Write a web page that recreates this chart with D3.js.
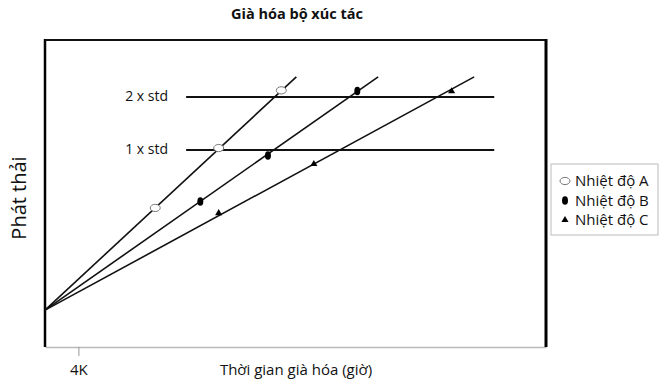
<!DOCTYPE html>
<html>
<head>
<meta charset="utf-8">
<script src="https://cdn.jsdelivr.net/npm/d3@7"></script>
<style>
  body { margin: 0; background: #fff; }
  text { font-family: "Open Sans", "Noto Sans", sans-serif; fill: #111; }
</style>
</head>
<body>
<div id="chart"></div>
<script>
// time in thousand hours, emission in arbitrary units
var xTicks = [4];
var xTickLabels = ['4K'];
var stdLevels = [6.42, 8.14];
var stdLabels = ['1 x std', '2 x std'];
var stdRange = [16.9, 53.8];

var seriesNames = ['Nhiệt độ A', 'Nhiệt độ B', 'Nhiệt độ C'];
var lineA = [[0, 1.2], [30.1, 8.8]];
var lineB = [[0, 1.2], [39.9, 8.8]];
var lineC = [[0, 1.2], [51.4, 8.8]];
var pointsA = [[13.2, 4.53], [20.8, 6.48], [28.3, 8.36]];
var pointsB = [[18.6, 4.74], [26.7, 6.24], [37.4, 8.34]];
var pointsC = [[20.8, 4.36], [32.2, 5.96], [48.7, 8.33]];

var width = 666, height = 384;
var margin = {left: 45, top: 40, right: 120, bottom: 37};

var svg = d3.select('#chart').append('svg')
  .attr('width', width)
  .attr('height', height);

var x = d3.scaleLinear().domain([0, 60]).range([margin.left, width - margin.right]);
var y = d3.scaleLinear().domain([0, 10]).range([height - margin.bottom, margin.top]);

// title
svg.append('text')
  .attr('x', 297).attr('y', 19)
  .attr('text-anchor', 'middle')
  .style('font-size', '14.5px').style('font-weight', 'bold')
  .text('Già hóa bộ xúc tác');

// bottom axis (light grey)
var xAxis = svg.append('g')
  .attr('transform', 'translate(0,' + y(0) + ')')
  .call(d3.axisBottom(x).tickValues(xTicks)
    .tickFormat(function(d, i) { return xTickLabels[i]; })
    .tickSize(9).tickSizeOuter(0));
xAxis.select('.domain').attr('stroke', '#b8b8b8').attr('stroke-width', 1.5);
xAxis.selectAll('.tick line').attr('stroke', '#999');
xAxis.selectAll('.tick text')
  .attr('y', 17)
  .style('font-size', '15px')
  .style('font-family', '"Open Sans", sans-serif')
  .attr('fill', '#111');

// frame: left, top, right
var x0 = x(0), x1 = x(60), yT = y(10), yB = y(0);
svg.append('line').attr('x1', x0).attr('x2', x0).attr('y1', yT - 1).attr('y2', yB)
  .attr('stroke', '#000').attr('stroke-width', 2.5);
svg.append('line').attr('x1', x0).attr('x2', x1).attr('y1', yT).attr('y2', yT)
  .attr('stroke', '#111').attr('stroke-width', 2);
svg.append('line').attr('x1', x1).attr('x2', x1).attr('y1', yT - 1).attr('y2', yB)
  .attr('stroke', '#000').attr('stroke-width', 3);

// axis titles
svg.append('text')
  .attr('x', 296).attr('y', 375)
  .attr('text-anchor', 'middle')
  .style('font-size', '15px')
  .text('Thời gian già hóa (giờ)');

svg.append('text')
  .attr('transform', 'translate(26,198) rotate(-90)')
  .attr('text-anchor', 'middle')
  .style('font-size', '20px')
  .text('Phát thải');

// standard levels
svg.selectAll('.std').data(stdLevels).enter().append('line')
  .attr('class', 'std')
  .attr('x1', x(stdRange[0])).attr('x2', x(stdRange[1]))
  .attr('y1', function(d) { return y(d); }).attr('y2', function(d) { return y(d); })
  .attr('stroke', '#111').attr('stroke-width', 2);

svg.selectAll('.stdlabel').data(stdLevels).enter().append('text')
  .attr('class', 'stdlabel')
  .attr('x', 168)
  .attr('y', function(d) { return y(d) + 4; })
  .attr('text-anchor', 'end')
  .style('font-size', '14px')
  .text(function(d, i) { return stdLabels[i]; });

// lines
var line = d3.line().x(function(d) { return x(d[0]); }).y(function(d) { return y(d[1]); });
[lineA, lineB, lineC].forEach(function(l) {
  svg.append('path').attr('d', line(l))
    .attr('fill', 'none').attr('stroke', '#111').attr('stroke-width', 1.6);
});

// markers
function drawMarker(g, type, px, py) {
  if (type === 0) {
    g.append('ellipse').attr('cx', px).attr('cy', py).attr('rx', 5).attr('ry', 3.6)
      .attr('fill', '#fff').attr('stroke', '#777').attr('stroke-width', 1);
  } else if (type === 1) {
    g.append('ellipse').attr('cx', px).attr('cy', py).attr('rx', 3).attr('ry', 4.3)
      .attr('fill', '#000');
  } else {
    g.append('path')
      .attr('d', d3.symbol().type(d3.symbolTriangle).size(22)())
      .attr('transform', 'translate(' + px + ',' + py + ')')
      .attr('fill', '#000');
  }
}
var markers = svg.append('g');
[pointsA, pointsB, pointsC].forEach(function(pts, i) {
  pts.forEach(function(p) { drawMarker(markers, i, x(p[0]), y(p[1])); });
});

// legend
var legend = svg.append('g').attr('transform', 'translate(551,164)');
legend.append('rect').attr('width', 107).attr('height', 71)
  .attr('fill', '#fff').attr('stroke', '#bbb').attr('stroke-width', 1);
seriesNames.forEach(function(name, i) {
  var ly = 17 + i * 19.5;
  drawMarker(legend, i, 14, ly);
  legend.append('text').attr('x', 24).attr('y', ly + 5)
    .style('font-size', '15px')
    .text(name);
});
</script>
</body>
</html>
